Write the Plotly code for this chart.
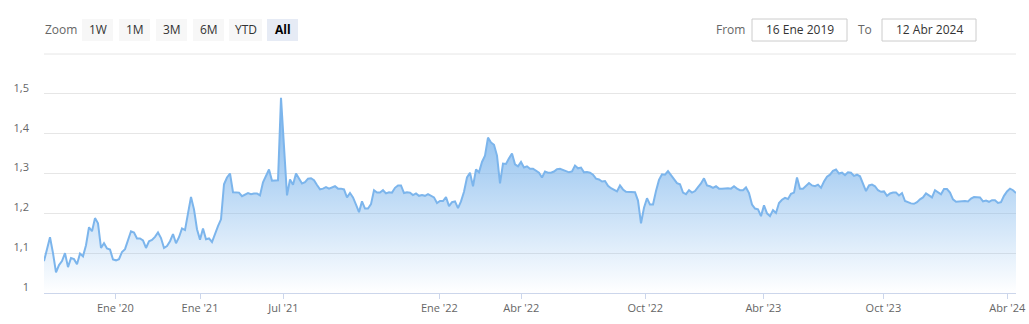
import plotly.graph_objects as go

# ---- data (ordinal axis: one value per observation, equally spaced) ----
price = [
    1.08, 1.11, 1.14, 1.10, 1.052, 1.07, 1.08, 1.10, 1.065, 1.088,
    1.085, 1.072, 1.099, 1.092, 1.12, 1.165, 1.155, 1.188, 1.175, 1.113,
    1.125, 1.112, 1.109, 1.084, 1.082, 1.085, 1.103, 1.11, 1.135, 1.155,
    1.152, 1.137, 1.137, 1.132, 1.113, 1.13, 1.133, 1.141, 1.152, 1.138,
    1.113, 1.118, 1.13, 1.148, 1.125, 1.14, 1.162, 1.158, 1.20, 1.241,
    1.21, 1.16, 1.134, 1.162, 1.135, 1.137, 1.128, 1.151, 1.168, 1.185,
    1.273, 1.29, 1.30, 1.253, 1.253, 1.252, 1.243, 1.246, 1.251, 1.248,
    1.25, 1.25, 1.245, 1.278, 1.295, 1.31, 1.282, 1.282, 1.283, 1.49,
    1.38, 1.245, 1.285, 1.272, 1.30, 1.288, 1.275, 1.278, 1.287, 1.288,
    1.283, 1.271, 1.26, 1.262, 1.266, 1.262, 1.265, 1.268, 1.262, 1.262,
    1.26, 1.24, 1.251, 1.24, 1.222, 1.203, 1.23, 1.212, 1.212, 1.223,
    1.258, 1.252, 1.252, 1.258, 1.25, 1.253, 1.252, 1.264, 1.27, 1.27,
    1.251, 1.253, 1.252, 1.246, 1.25, 1.244, 1.246, 1.244, 1.248, 1.243,
    1.24, 1.226, 1.231, 1.231, 1.241, 1.218, 1.228, 1.23, 1.213, 1.23,
    1.254, 1.29, 1.302, 1.268, 1.31, 1.303, 1.329, 1.345, 1.39, 1.378,
    1.372, 1.345, 1.275, 1.325, 1.324, 1.338, 1.35, 1.323, 1.318, 1.329,
    1.315, 1.318, 1.312, 1.312, 1.307, 1.302, 1.29, 1.305, 1.302, 1.302,
    1.305, 1.311, 1.312, 1.308, 1.306, 1.303, 1.305, 1.32, 1.313, 1.315,
    1.303, 1.304, 1.302, 1.297, 1.287, 1.285, 1.28, 1.281, 1.269, 1.263,
    1.259, 1.255, 1.27, 1.26, 1.254, 1.254, 1.254, 1.253, 1.232, 1.175,
    1.214, 1.238, 1.222, 1.222, 1.256, 1.284, 1.298, 1.297, 1.306, 1.296,
    1.289, 1.276, 1.273, 1.252, 1.248, 1.258, 1.252, 1.256, 1.266, 1.275,
    1.288, 1.27, 1.268, 1.264, 1.268, 1.262, 1.262, 1.263, 1.263, 1.262,
    1.268, 1.262, 1.258, 1.258, 1.265, 1.251, 1.222, 1.212, 1.21, 1.193,
    1.22, 1.20, 1.193, 1.208, 1.201, 1.226, 1.234, 1.239, 1.236, 1.249,
    1.252, 1.29, 1.262, 1.262, 1.268, 1.276, 1.27, 1.268, 1.272, 1.264,
    1.28, 1.292, 1.297, 1.307, 1.31, 1.30, 1.302, 1.296, 1.303, 1.302,
    1.294, 1.297, 1.293, 1.275, 1.256, 1.27, 1.272, 1.268, 1.258, 1.254,
    1.255, 1.244, 1.25, 1.252, 1.252, 1.245, 1.251, 1.231, 1.227, 1.225,
    1.224, 1.228, 1.235, 1.24, 1.25, 1.245, 1.24, 1.258, 1.252, 1.248,
    1.261, 1.261, 1.252, 1.235, 1.229, 1.23, 1.231, 1.231, 1.23, 1.237,
    1.241, 1.241, 1.24, 1.23, 1.232, 1.229, 1.233, 1.233, 1.226, 1.228,
    1.244, 1.255, 1.262, 1.258, 1.251,
]
obs = list(range(len(price)))

x_tick_pos = [23.8, 52.0, 79.8, 131.8, 159.1, 200.4, 239.8, 279.8, 321.1]
x_tick_text = ["Ene '20", "Ene '21", "Jul '21", "Ene '22", "Abr '22",
               "Oct '22", "Abr '23", "Oct '23", "Abr '24"]
y_tick_vals = [1.0, 1.1, 1.2, 1.3, 1.4, 1.5, 1.6]
y_tick_text = ["1", "1,1", "1,2", "1,3", "1,4", "1,5", ""]

zoom_buttons = ["1W", "1M", "3M", "6M", "YTD", "All"]
date_from = "16 Ene 2019"
date_to = "12 Abr 2024"

# ---- layout geometry (pixels) ----
W, H = 1029, 324
L, R, T, B = 44, 13, 54, 31
PW, PH = W - L - R, H - T - B

def px(xp):
    return (xp - L) / PW

def py(yp):
    return (H - B - yp) / PH

FONT = "Open Sans"
LINE = "#7cb5ec"

fig = go.Figure()
fig.add_trace(go.Scatter(
    x=obs, y=price, mode="lines",
    line=dict(color=LINE, width=2),
    fill="tozeroy",
    fillgradient=dict(type="vertical",
                      colorscale=[[0, "rgba(124,181,236,0.0)"],
                                  [1, "rgba(124,181,236,1.0)"]],
                      start=1.0, stop=1.49),
    hoverinfo="skip",
))

shapes = []
annotations = []

def label(xc, text, color, size=12):
    annotations.append(dict(x=px(xc), y=py(30), xref="paper", yref="paper",
                            xanchor="center", yanchor="middle",
                            text=text, showarrow=False,
                            font=dict(family=FONT, size=size, color=color)))

# Top grid line (1.6) as a plain line along the top of the plot
shapes.append(dict(type="line", xref="paper", yref="paper",
                   x0=0, x1=1, y0=1, y1=1,
                   line=dict(color="#e6e6e6", width=1), layer="below"))

# Zoom label and buttons
label(61, "Zoom", "#666666")
btn_left = [82, 119, 156, 193, 229, 267]
btn_w = [31, 31, 31, 31, 33, 31]
for lbl, bl, bw in zip(zoom_buttons, btn_left, btn_w):
    sel = lbl == "All"
    shapes.append(dict(type="rect", xref="paper", yref="paper",
                       x0=px(bl), x1=px(bl + bw), y0=py(41), y1=py(19),
                       fillcolor="#e6ebf5" if sel else "#f7f7f7",
                       line=dict(width=0), layer="below"))
    label(bl + bw / 2, f"<b>{lbl}</b>" if sel else lbl,
          "#000000" if sel else "#333333")

# From / To boxes
label(730, "From", "#666666")
label(865, "To", "#666666")
for bx0, bx1, txt in [(752, 847, date_from), (882, 976, date_to)]:
    shapes.append(dict(type="rect", xref="paper", yref="paper",
                       x0=px(bx0), x1=px(bx1), y0=py(41), y1=py(19),
                       fillcolor="#ffffff", line=dict(color="#cccccc", width=1),
                       layer="below"))
    label((bx0 + bx1) / 2, txt, "#333333")

fig.update_layout(
    width=W, height=H,
    margin=dict(l=L, r=R, t=T, b=B, pad=0, autoexpand=False),
    paper_bgcolor="white", plot_bgcolor="white",
    separators=", ",
    showlegend=False,
    font=dict(family=FONT, size=11, color="#666666"),
    shapes=shapes, annotations=annotations,
    xaxis=dict(range=[0, len(price) - 1], tickmode="array",
               tickvals=x_tick_pos, ticktext=x_tick_text,
               showgrid=False, zeroline=False, automargin=False,
               showline=True, linecolor="#ccd6eb", linewidth=1,
               ticks="outside", ticklen=5, tickcolor="#ccd6eb",
               ticklabelstandoff=0,
               tickfont=dict(family=FONT, size=11, color="#666666"),
               fixedrange=True),
    yaxis=dict(range=[1.0, 1.6], tickmode="array",
               tickvals=y_tick_vals, ticktext=y_tick_text,
               showgrid=True, gridcolor="#e6e6e6", gridwidth=1,
               zeroline=False, showline=False, ticks="", automargin=False,
               ticklabelshift=-6, ticklabelstandoff=14,
               tickfont=dict(family=FONT, size=11, color="#666666"),
               fixedrange=True),
)

fig.write_html("out.html", config={"displayModeBar": False})
